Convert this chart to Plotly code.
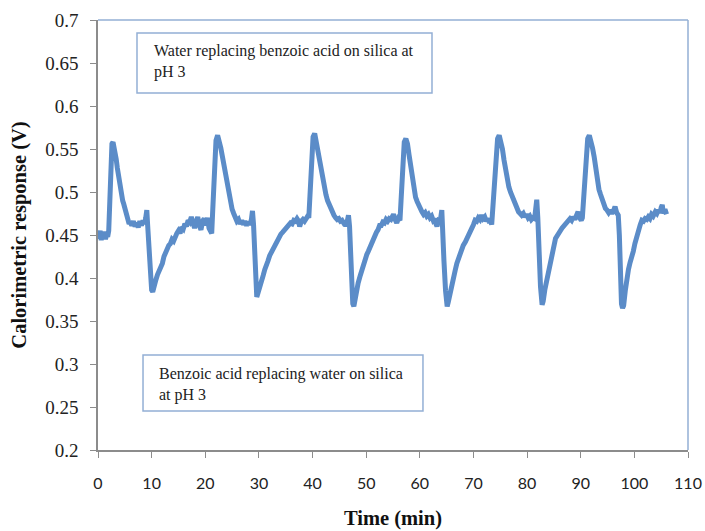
import plotly.graph_objects as go

# Calorimetric response trace (time in minutes, response in volts)
time_min = [
    0, 0.2, 0.4, 0.6, 0.8, 1.0, 1.2, 1.4, 1.6, 1.8, 2.0,
    2.2, 2.4, 2.6, 2.8, 3.0, 3.2, 3.4, 3.6, 3.8, 4.0, 4.2, 4.4, 4.6, 4.8, 5.0,
    5.2, 5.4, 5.6, 5.8, 6.0, 6.3, 6.6, 6.9, 7.2, 7.5, 7.8, 8.1, 8.4, 8.7, 8.9,
    9.1, 9.25, 9.5, 9.8, 10.0, 10.2, 10.5, 10.8, 11.1, 11.4, 11.7, 12.0, 12.3,
    12.6, 12.9, 13.2, 13.5, 13.8, 14.1, 14.4, 14.7, 15.0, 15.3, 15.6, 15.9,
    16.2, 16.5, 16.8, 17.1, 17.4, 17.7, 18.0, 18.3, 18.6, 18.9, 19.2, 19.5,
    19.8, 20.1, 20.4, 20.7, 21.0, 21.2, 21.4, 21.7, 22.0, 22.3, 22.6, 22.9,
    23.2, 23.5, 23.8, 24.1, 24.4, 24.7, 25.0, 25.3, 25.6, 25.9, 26.2, 26.5,
    26.8, 27.1, 27.4, 27.7, 28.0, 28.3, 28.6, 28.8, 29.0, 29.2, 29.4, 29.6,
    29.8, 30.1, 30.4, 30.8, 31.1, 31.4, 31.7, 32.0, 32.3, 32.6, 32.9, 33.2,
    33.5, 33.8, 34.1, 34.4, 34.7, 35.0, 35.3, 35.6, 35.9, 36.2, 36.5, 36.8,
    37.1, 37.4, 37.6, 37.9, 38.2, 38.5, 38.8, 39.1, 39.3, 39.5, 39.8, 40.1,
    40.4, 40.7, 41.0, 41.3, 41.6, 41.9, 42.2, 42.5, 42.8, 43.1, 43.4, 43.7,
    44.0, 44.3, 44.6, 44.9, 45.2, 45.5, 45.8, 46.1, 46.3, 46.5, 46.7, 46.9,
    47.1, 47.3, 47.5, 47.7, 47.9, 48.2, 48.5, 48.9, 49.2, 49.5, 49.8, 50.1,
    50.4, 50.7, 51.0, 51.3, 51.6, 51.9, 52.2, 52.5, 52.8, 53.1, 53.4, 53.7,
    54.0, 54.3, 54.6, 54.9, 55.1, 55.4, 55.7, 56.0, 56.3, 56.5, 56.8, 57.1,
    57.4, 57.7, 58.0, 58.3, 58.6, 58.9, 59.2, 59.5, 59.8, 60.1, 60.4, 60.7,
    61.0, 61.3, 61.6, 61.9, 62.2, 62.5, 62.8, 63.0, 63.2, 63.5, 63.8, 64.1,
    64.3, 64.5, 64.8, 65.1, 65.3, 65.6, 66.0, 66.3, 66.6, 66.9, 67.2, 67.5,
    67.8, 68.1, 68.5, 68.8, 69.1, 69.4, 69.7, 70.0, 70.3, 70.6, 70.9, 71.2,
    71.5, 71.8, 72.1, 72.4, 72.7, 73.0, 73.2, 73.4, 73.7, 74.1, 74.5, 74.8,
    75.1, 75.4, 75.7, 76.0, 76.3, 76.6, 76.9, 77.2, 77.5, 77.8, 78.1, 78.4,
    78.7, 79.0, 79.3, 79.6, 79.9, 80.2, 80.5, 80.8, 81.1, 81.4, 81.6, 81.8,
    82.0, 82.2, 82.5, 82.8, 83.0, 83.3, 83.7, 84.0, 84.3, 84.6, 84.9, 85.3,
    85.6, 85.9, 86.2, 86.5, 86.8, 87.1, 87.4, 87.7, 88.0, 88.3, 88.6, 88.9,
    89.2, 89.5, 89.8, 90.1, 90.3, 90.6, 90.9, 91.3, 91.6, 91.9, 92.2, 92.5,
    92.8, 93.1, 93.4, 93.7, 94.0, 94.3, 94.6, 94.9, 95.2, 95.5, 95.8, 96.1,
    96.4, 96.7, 97.0, 97.2, 97.4, 97.6, 97.8, 98.0, 98.3, 98.6, 98.9, 99.2,
    99.5, 99.8, 100.1, 100.4, 100.8, 101.1, 101.4, 101.7, 102.0, 102.3, 102.6,
    102.9, 103.2, 103.5, 103.9, 104.2, 104.5, 104.8, 105.0, 105.2, 105.4,
    105.7, 106.0,
]

response_v = [
    0.452, 0.446, 0.455, 0.444, 0.452, 0.447, 0.454, 0.445, 0.451, 0.448, 0.455,
    0.500, 0.545, 0.556, 0.558, 0.553, 0.547, 0.538, 0.528, 0.519, 0.510, 0.503, 0.497, 0.490, 0.486, 0.481,
    0.477, 0.470, 0.466, 0.463, 0.465, 0.461, 0.466, 0.460, 0.464, 0.459, 0.466, 0.461, 0.467, 0.463, 0.470,
    0.479, 0.462, 0.430, 0.395, 0.386, 0.384, 0.394, 0.398, 0.404, 0.408, 0.414, 0.417, 0.425,
    0.430, 0.432, 0.438, 0.440, 0.445, 0.443, 0.450, 0.452, 0.455, 0.452, 0.459, 0.457,
    0.463, 0.460, 0.467, 0.465, 0.471, 0.466, 0.458, 0.465, 0.471, 0.461, 0.456, 0.466,
    0.469, 0.461, 0.470, 0.458, 0.455, 0.452, 0.480, 0.530, 0.560, 0.566, 0.560, 0.551,
    0.541, 0.530, 0.520, 0.508, 0.498, 0.488, 0.480, 0.475, 0.470, 0.466, 0.468, 0.463,
    0.467, 0.462, 0.466, 0.461, 0.465, 0.462, 0.468, 0.478, 0.462, 0.430, 0.395, 0.378,
    0.382, 0.390, 0.396, 0.403, 0.410, 0.414, 0.420, 0.426, 0.430, 0.434, 0.438, 0.441,
    0.445, 0.447, 0.451, 0.453, 0.455, 0.458, 0.460, 0.462, 0.464, 0.463, 0.467, 0.466,
    0.469, 0.466, 0.460, 0.466, 0.468, 0.466, 0.470, 0.472, 0.470, 0.500, 0.545, 0.564,
    0.568, 0.558, 0.545, 0.532, 0.522, 0.512, 0.503, 0.497, 0.490, 0.485, 0.480, 0.476,
    0.473, 0.470, 0.468, 0.469, 0.466, 0.467, 0.464, 0.466, 0.460, 0.467, 0.473, 0.460,
    0.425, 0.390, 0.370, 0.367, 0.375, 0.384, 0.394, 0.403, 0.410, 0.416, 0.420, 0.427,
    0.431, 0.436, 0.440, 0.445, 0.448, 0.453, 0.456, 0.461, 0.461, 0.465, 0.464, 0.468,
    0.466, 0.469, 0.468, 0.471, 0.474, 0.468, 0.464, 0.469, 0.467, 0.490, 0.535, 0.558,
    0.562, 0.556, 0.543, 0.530, 0.515, 0.503, 0.494, 0.489, 0.484, 0.480, 0.477, 0.474,
    0.476, 0.472, 0.474, 0.470, 0.472, 0.467, 0.469, 0.463, 0.460, 0.467, 0.466, 0.479,
    0.460, 0.420, 0.385, 0.367, 0.372, 0.382, 0.392, 0.400, 0.409, 0.417, 0.423, 0.428,
    0.433, 0.438, 0.442, 0.447, 0.450, 0.455, 0.458, 0.462, 0.467, 0.466, 0.470, 0.468,
    0.473, 0.469, 0.471, 0.466, 0.469, 0.464, 0.468, 0.462, 0.490, 0.540, 0.562, 0.566,
    0.560, 0.550, 0.537, 0.525, 0.515, 0.506, 0.500, 0.495, 0.489, 0.484, 0.481, 0.477,
    0.475, 0.473, 0.475, 0.471, 0.474, 0.470, 0.472, 0.468, 0.470, 0.469, 0.480, 0.491,
    0.470, 0.430, 0.390, 0.369, 0.373, 0.386, 0.400, 0.410, 0.418, 0.427, 0.434, 0.446,
    0.450, 0.452, 0.455, 0.458, 0.460, 0.463, 0.466, 0.467, 0.469, 0.467, 0.471, 0.468,
    0.472, 0.477, 0.470, 0.467, 0.470, 0.500, 0.540, 0.562, 0.566, 0.560, 0.551, 0.541,
    0.526, 0.513, 0.503, 0.497, 0.491, 0.486, 0.481, 0.479, 0.476, 0.479, 0.475, 0.478,
    0.483, 0.476, 0.473, 0.450, 0.400, 0.370, 0.365, 0.368, 0.385, 0.400, 0.410, 0.418,
    0.423, 0.431, 0.440, 0.448, 0.454, 0.462, 0.467, 0.466, 0.469, 0.468, 0.471,
    0.469, 0.474, 0.472, 0.477, 0.475, 0.479, 0.476, 0.482, 0.485, 0.475,
    0.480, 0.474,
]

y_tick_values = [0.2, 0.25, 0.3, 0.35, 0.4, 0.45, 0.5, 0.55, 0.6, 0.65, 0.7]
y_tick_labels = ["0.2", "0.25", "0.3", "0.35", "0.4", "0.45", "0.5", "0.55", "0.6", "0.65", "0.7"]
x_tick_values = [0, 10, 20, 30, 40, 50, 60, 70, 80, 90, 100, 110]

note_desorption = "Water replacing benzoic acid on silica at<br>pH 3"
note_adsorption = "Benzoic acid replacing water on silica<br>at pH 3"

LINE_BLUE = "#5B8CC8"
FRAME_BLUE = "#93AFD5"
AXIS_GREY = "#8C8C8C"
SERIF = "Liberation Serif"

fig = go.Figure()
fig.add_trace(go.Scatter(
    x=time_min, y=response_v, mode="lines",
    line=dict(color=LINE_BLUE, width=5),
    showlegend=False, hoverinfo="skip",
))

fig.update_layout(
    width=705, height=531,
    margin=dict(l=98, r=17, t=20, b=81, autoexpand=False),
    paper_bgcolor="white", plot_bgcolor="white",
    xaxis=dict(
        range=[0, 110], tickvals=x_tick_values, automargin=False,
        showgrid=False, zeroline=False,
        showline=True, linecolor=AXIS_GREY, linewidth=1.5,
        ticks="outside", ticklen=6, tickcolor=AXIS_GREY, tickwidth=1.2,
        tickfont=dict(family="Lato", size=16, color="#222"),
        ticklabelstandoff=12,
        title=dict(text="<b>Time (min)</b>", font=dict(family=SERIF, size=20.5, color="#111"),
                   standoff=20),
    ),
    yaxis=dict(
        range=[0.2, 0.7], tickvals=y_tick_values, ticktext=y_tick_labels, automargin=False,
        showgrid=False, zeroline=False,
        showline=True, linecolor=AXIS_GREY, linewidth=1.5,
        ticks="outside", ticklen=6, tickcolor=AXIS_GREY, tickwidth=1.2,
        tickfont=dict(family=SERIF, size=19, color="#222"),
        ticklabelstandoff=8,
        title=dict(text="<b>Calorimetric response (V)</b>", font=dict(family=SERIF, size=20.5, color="#111"),
                   standoff=13),
    ),
    shapes=[
        # plot frame: top and right edges
        dict(type="line", xref="paper", yref="paper", x0=0, x1=1, y0=1, y1=1,
             line=dict(color=FRAME_BLUE, width=1.5)),
        dict(type="line", xref="paper", yref="paper", x0=1, x1=1, y0=0, y1=1,
             line=dict(color=FRAME_BLUE, width=1.5)),
        # text boxes
        dict(type="rect", xref="paper", yref="paper", x0=0.0661, x1=0.5661, y0=0.8302, y1=0.9698,
             line=dict(color=FRAME_BLUE, width=1.5), fillcolor="white", layer="above"),
        dict(type="rect", xref="paper", yref="paper", x0=0.0763, x1=0.5508, y0=0.0907, y1=0.2209,
             line=dict(color=FRAME_BLUE, width=1.5), fillcolor="white", layer="above"),
    ],
    annotations=[
        dict(text=note_desorption, xref="paper", yref="paper", x=0.0915, y=0.903,
             xanchor="left", yanchor="middle", align="left", showarrow=False,
             font=dict(family=SERIF, size=16, color="#222")),
        dict(text=note_adsorption, xref="paper", yref="paper", x=0.1, y=0.1512,
             xanchor="left", yanchor="middle", align="left", showarrow=False,
             font=dict(family=SERIF, size=16, color="#222")),
    ],
)

fig.write_html("out.html")
